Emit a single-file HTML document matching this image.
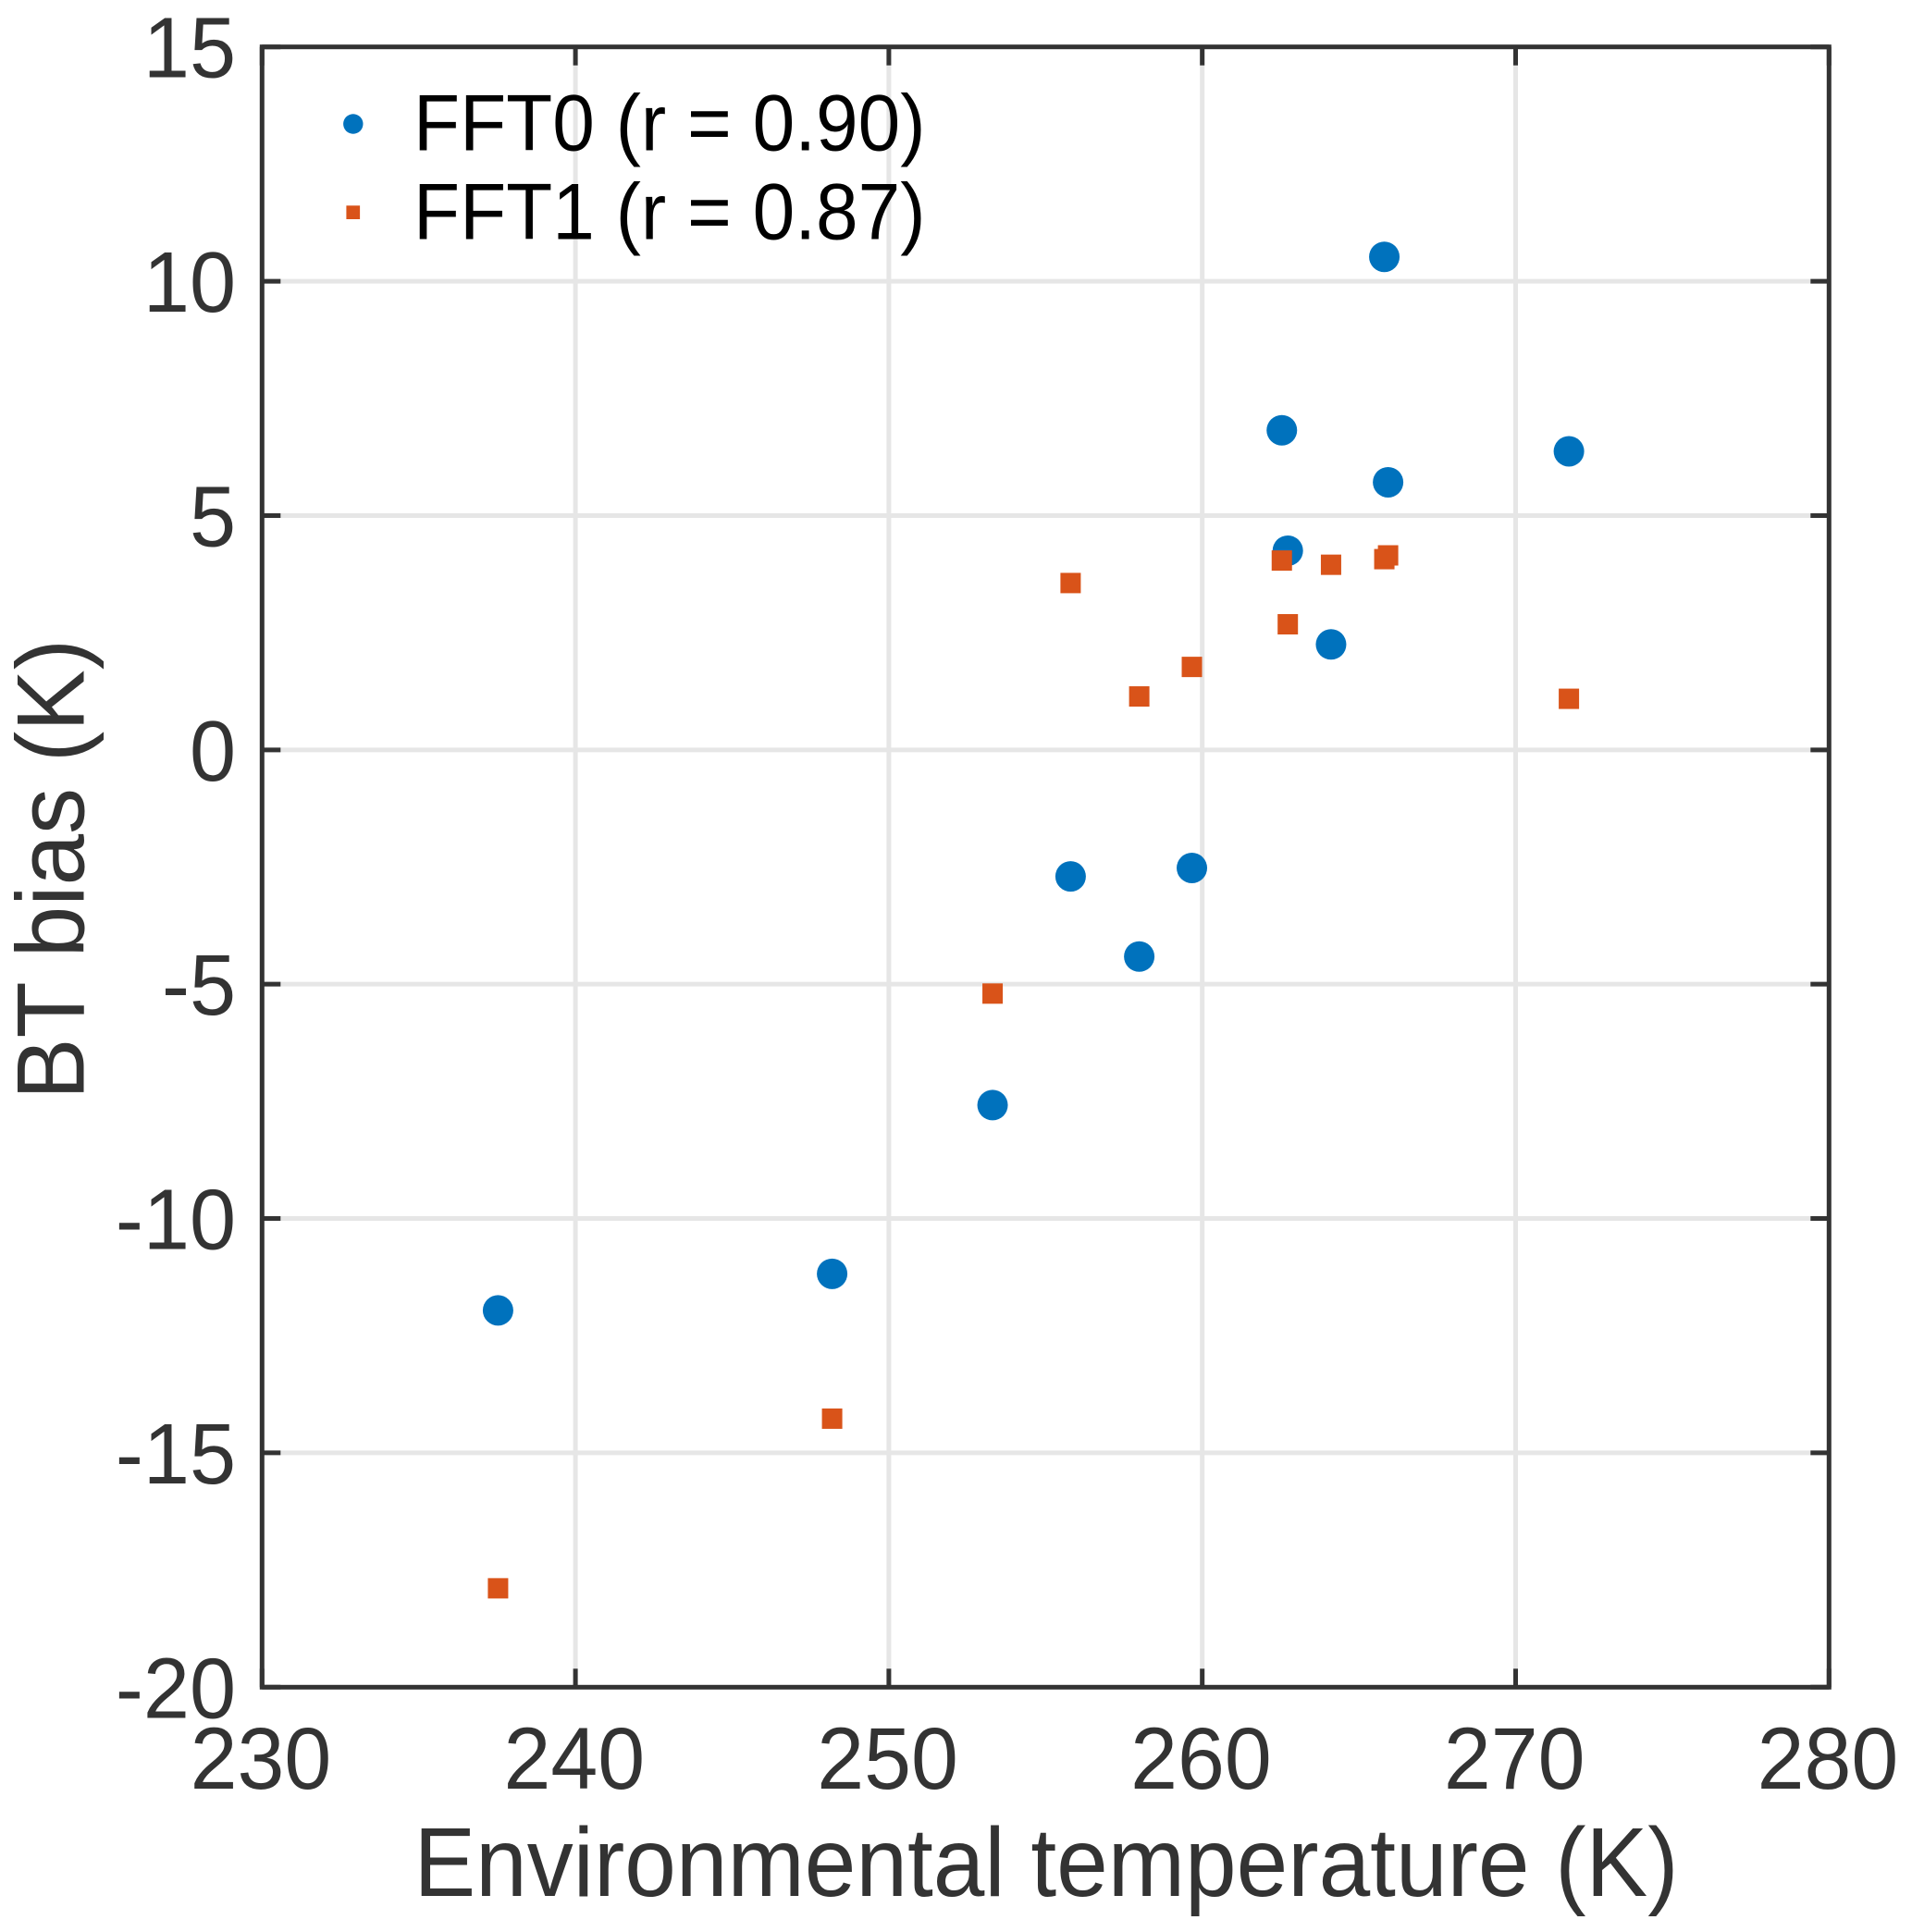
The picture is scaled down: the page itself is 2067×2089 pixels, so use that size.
<!DOCTYPE html>
<html lang="en">
<head>
<meta charset="utf-8">
<title>BT bias vs environmental temperature</title>
<style>
html,body{margin:0;padding:0;background:#fff;width:2067px;height:2089px;overflow:hidden}
svg{display:block}
text{font-family:"Liberation Sans",Arial,sans-serif}
</style>
</head>
<body>
<svg id="chart" xmlns="http://www.w3.org/2000/svg" width="2067" height="2089" viewBox="0 0 2067 2089">
  <rect x="0" y="0" width="2067" height="2089" fill="#ffffff"/>
  <g id="grid"></g>
  <g id="marks"></g>
  <g id="axes"></g>
  <g id="labels"></g>
  <text transform="translate(1131,2050) scale(1,1.057)" font-size="100" fill="#333333" text-anchor="middle">Environmental temperature (K)</text>
  <text transform="translate(90.3,940) rotate(-90) scale(1,1.04)" font-size="100" fill="#333333" text-anchor="middle">BT bias (K)</text>
  <g>
    <circle cx="381.8" cy="134" r="10.7" fill="#0072BD"/>
    <text transform="translate(447,162.7) scale(1,1.055)" font-size="82" fill="#000000">FFT0 (r = 0.90)</text>
    <rect x="374.4" y="222.3" width="14.7" height="14.7" fill="#D95319"/>
    <text transform="translate(447,258.7) scale(1,1.055)" font-size="82" fill="#000000">FFT1 (r = 0.87)</text>
  </g>
</svg>
<script>
const xTicks = [230, 240, 250, 260, 270, 280];
const yTicks = [15, 10, 5, 0, -5, -10, -15, -20];
const temperature = [237.53, 248.19, 253.31, 255.80, 257.99, 259.67, 262.54, 262.73, 264.11, 265.81, 265.93, 271.70];
const fft0Bias = [-11.96, -11.18, -7.58, -2.70, -4.41, -2.52, 6.82, 4.25, 2.25, 10.52, 5.71, 6.37];
const fft1Bias = [-17.89, -14.27, -5.20, 3.56, 1.14, 1.77, 4.04, 2.68, 3.95, 4.07, 4.15, 1.09];

const NS = 'http://www.w3.org/2000/svg';
const plotLeft = 283.3, plotRight = 1977.3, plotTop = 50.7, plotBottom = 1824.3;
const xMin = 230, xMax = 280, yMin = -20, yMax = 15;
function xScale(v) { return plotLeft + (v - xMin) / (xMax - xMin) * (plotRight - plotLeft); }
function yScale(v) { return plotBottom - (v - yMin) / (yMax - yMin) * (plotBottom - plotTop); }
function make(tag, attrs) {
  const el = document.createElementNS(NS, tag);
  for (const k in attrs) el.setAttribute(k, attrs[k]);
  return el;
}
const gridG = document.getElementById('grid');
const marksG = document.getElementById('marks');
const axesG = document.getElementById('axes');
const labelsG = document.getElementById('labels');
const gridStyle = { stroke: '#e6e6e6', 'stroke-width': 5 };
const axisStyle = { stroke: '#333333', 'stroke-width': 5 };
const tickLen = 20;

xTicks.forEach(function (t) {
  const x = xScale(t);
  if (t !== xMin && t !== xMax) {
    const g = make('line', Object.assign({ x1: x, x2: x, y1: plotTop, y2: plotBottom }, gridStyle));
    
    
    gridG.appendChild(g);
  }
  const tb = make('line', Object.assign({ x1: x, x2: x, y1: plotBottom, y2: plotBottom - tickLen }, axisStyle));
  
  
  axesG.appendChild(tb);
  const tt = make('line', Object.assign({ x1: x, x2: x, y1: plotTop, y2: plotTop + tickLen }, axisStyle));
  
  
  axesG.appendChild(tt);
  const lab = make('text', { transform: 'translate(' + (x - 1.3) + ',1934) scale(1,1.03)', 'font-size': 91.5, fill: '#333333', 'text-anchor': 'middle' });
  
  
  lab.textContent = String(t);
  labelsG.appendChild(lab);
});

yTicks.forEach(function (t) {
  const y = yScale(t);
  if (t !== yMin && t !== yMax) {
    const g = make('line', Object.assign({ x1: plotLeft, x2: plotRight, y1: y, y2: y }, gridStyle));
    
    
    gridG.appendChild(g);
  }
  const tl = make('line', Object.assign({ x1: plotLeft, x2: plotLeft + tickLen, y1: y, y2: y }, axisStyle));
  
  
  axesG.appendChild(tl);
  const tr = make('line', Object.assign({ x1: plotRight, x2: plotRight - tickLen, y1: y, y2: y }, axisStyle));
  
  
  axesG.appendChild(tr);
  const lab = make('text', { transform: 'translate(255,' + (y + 33) + ') scale(1,1.03)', 'font-size': 90, fill: '#333333', 'text-anchor': 'end' });
  
  
  lab.textContent = String(t);
  labelsG.appendChild(lab);
});

const box = make('rect', { x: plotLeft, y: plotTop, width: plotRight - plotLeft, height: plotBottom - plotTop, fill: 'none', stroke: '#333333', 'stroke-width': 5 });


axesG.appendChild(box);

const circleR = 16.5, squareSide = 22;
temperature.forEach(function (t, i) {
  const c = make('circle', { cx: xScale(t), cy: yScale(fft0Bias[i]), r: circleR, fill: '#0072BD' });
  
  
  marksG.appendChild(c);
});
temperature.forEach(function (t, i) {
  const s = make('rect', { x: xScale(t) - squareSide / 2, y: yScale(fft1Bias[i]) - squareSide / 2, width: squareSide, height: squareSide, fill: '#D95319' });
  
  
  marksG.appendChild(s);
});
</script>
</body>
</html>
